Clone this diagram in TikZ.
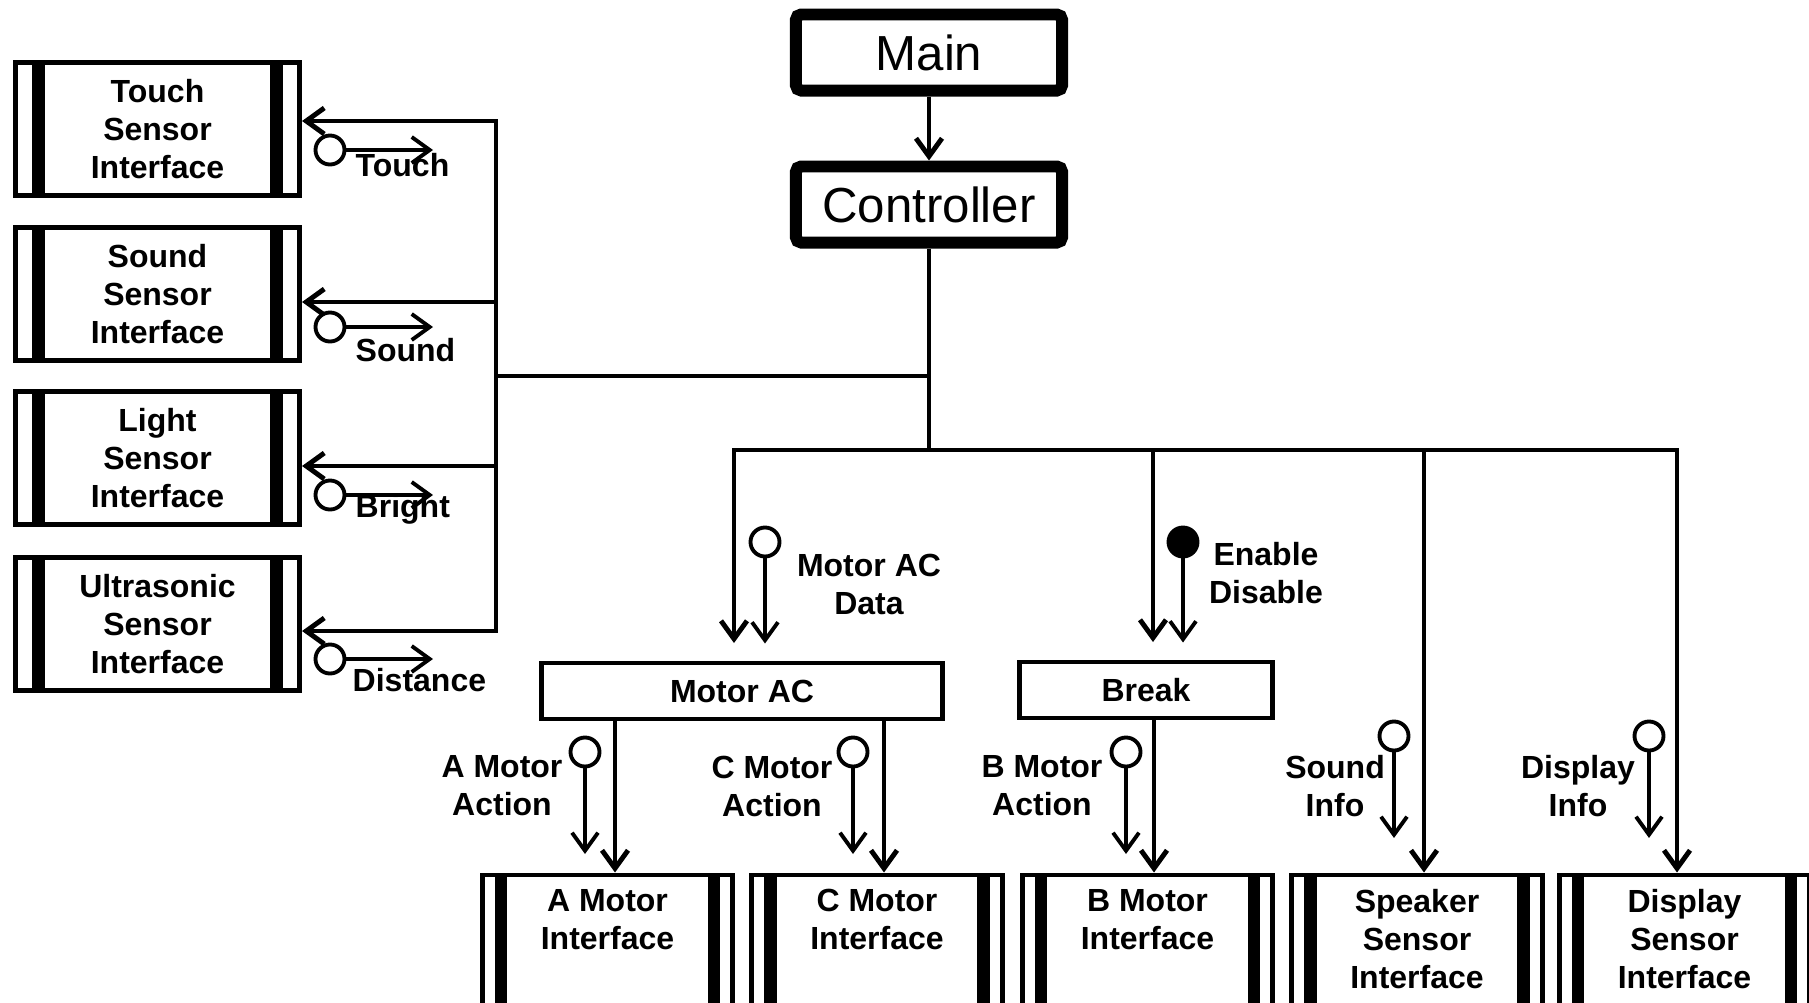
\documentclass[tikz,border=0pt]{standalone}
\usepackage{fontspec}
\setmainfont{Liberation Sans}
\usetikzlibrary{arrows.meta}

\newcommand\lblfont{\fontsize{9.1}{10.8}\selectfont\bfseries}

\begin{document}
\begin{tikzpicture}[
		x=0.01cm, y=-0.01cm,
		iface/.style={
			draw,
			line width=1.4pt,
			inner sep=0pt,
			align=center,
			font=\lblfont,
			path picture={
				\draw[line width=3.5pt] ([xshift=#1]path picture bounding box.north west) -- ([xshift=#1]path picture bounding box.south west);
				\draw[line width=3.5pt] ([xshift=-#1]path picture bounding box.north east) -- ([xshift=-#1]path picture bounding box.south east);
			},
		},
		sensorbox/.style={iface=0.23cm, minimum width=2.84cm, minimum height=1.33cm},
		modbox/.style={iface=0.185cm, minimum width=2.5cm, minimum height=1.8cm, anchor=north},
		modtext/.style={anchor=north, align=center, font=\lblfont, inner sep=0pt, yshift=-0.16cm},
		topbox/.style={
			draw,
			line width=3.4pt,
			rounded corners=1.5pt,
			minimum width=2.66cm,
			minimum height=0.76cm,
			inner sep=0pt,
			font=\fontsize{14}{16}\selectfont,
		},
		flowbox/.style={draw, line width=1.4pt, minimum height=0.56cm, inner sep=0pt, font=\lblfont},
		conn/.style={line width=1.4pt, >={Straight Barb[length=1.8mm, width=2.6mm]}},
		sig/.style={line width=1.1pt, >={Straight Barb[length=1.8mm, width=2.6mm]}},
		sigdot/.style={circle, draw, line width=1.1pt, minimum size=0.29cm, inner sep=0pt, fill=white},
		siglbl/.style={font=\lblfont, align=center, inner sep=0pt},
	]

		\useasboundingbox (0,0) rectangle (1809,1003);
		\clip (0,0) rectangle (1809,1003);

		% Noeuds du haut
		\node[topbox] (main) at (929,52.5) {Main};
		\node[topbox] (ctrl) at (929,204.5) {Controller};

		% Capteurs (gauche)
		\node[sensorbox] (touch) at (157.5,129) {Touch\\Sensor\\Interface};
		\node[sensorbox] (sound) at (157.5,294) {Sound\\Sensor\\Interface};
		\node[sensorbox] (light) at (157.5,458) {Light\\Sensor\\Interface};
		\node[sensorbox] (ultra) at (157.5,624) {Ultrasonic\\Sensor\\Interface};

		% Blocs du milieu
		\node[flowbox, minimum width=4.01cm] (motorac) at (742,691) {Motor AC};
		\node[flowbox, minimum width=2.53cm] (brk) at (1146,690) {Break};

		% Interfaces (bas)
		\node[modbox, label={[modtext]north:{A Motor\\Interface}}] (amot) at (607.5,872.5) {};
		\node[modbox, label={[modtext]north:{C Motor\\Interface}}] (cmot) at (877,872.5) {};
		\node[modbox, label={[modtext]north:{B Motor\\Interface}}] (bmot) at (1147.5,872.5) {};
		\node[modbox, label={[modtext]north:{Speaker\\Sensor\\Interface}}] (spkif) at (1417,872.5) {};
		\node[modbox, label={[modtext]north:{Display\\Sensor\\Interface}}] (dispif) at (1684.5,872.5) {};

		% Points de bus
		\coordinate (lj) at (496,376);
		\coordinate (tb) at (496,121);
		\coordinate (sb) at (496,302);
		\coordinate (lb) at (496,466);
		\coordinate (ub) at (496,631);
		\coordinate (jct) at (929,450);
		\coordinate (bl) at (734,450);
		\coordinate (bb) at (1153,450);
		\coordinate (sp) at (1424,450);
		\coordinate (br) at (1677,450);

		% Connexions
		\draw[conn, ->] (main) -- (ctrl);
		\draw[conn] (ctrl) -- (jct);
		\draw[conn] (ctrl |- lj) -- (lj);
		\draw[conn, <->] (touch.east |- tb) -- (tb) -- (ub) -- (ultra.east |- ub);
		\draw[conn, ->] (sb) -- (sound.east |- sb);
		\draw[conn, ->] (lb) -- (light.east |- lb);
		\draw[conn, <->, shorten <=0.175cm] (bl |- motorac.north) -- (bl) -- (br) -- (br |- dispif.north);
		\draw[conn, ->, shorten >=0.175cm] (bb) -- (bb |- brk.north);
		\draw[conn, ->] (sp) -- (sp |- spkif.north);
		\draw[conn, ->] ([xshift=0.075cm]amot.north |- motorac.south) -- ([xshift=0.075cm]amot.north);
		\draw[conn, ->] ([xshift=0.07cm]cmot.north |- motorac.south) -- ([xshift=0.07cm]cmot.north);
		\draw[conn, ->] ([xshift=0.065cm]bmot.north |- brk.south) -- ([xshift=0.065cm]bmot.north);

		% Signaux (gauche)
		\node[sigdot] (dtouch) at (330,150) {};
		\node[sigdot] (dsound) at (330,327) {};
		\node[sigdot] (dlight) at (330,495) {};
		\node[sigdot] (dultra) at (330,659) {};
		\draw[sig, ->] (dtouch) -- ++(103,0);
		\draw[sig, ->] (dsound) -- ++(103,0);
		\draw[sig, ->] (dlight) -- ++(103,0);
		\draw[sig, ->] (dultra) -- ++(103,0);
		\node[siglbl, anchor=west] (ltouch) at (355,165) {Touch};
		\node[siglbl, anchor=west] (lsound) at (355,350) {Sound};
		\node[siglbl, anchor=west] (lbright) at (355,509) {Bright};
		\node[siglbl, anchor=west] (ldist) at (352,680) {Distance};

		% Signaux (bas)
		\node[sigdot] (dmac) at (765,542) {};
		\node[sigdot, fill=black] (den) at (1183,542) {};
		\node[sigdot] (dam) at (585,752) {};
		\node[sigdot] (dcm) at (853,752) {};
		\node[sigdot] (dbm) at (1126,752) {};
		\node[sigdot] (dsi) at (1394,736) {};
		\node[sigdot] (ddi) at (1649,736) {};
		\draw[sig, ->, shorten >=0.17cm] (dmac) -- (dmac |- motorac.north);
		\draw[sig, ->, shorten >=0.17cm] (den) -- (den |- brk.north);
		\draw[sig, ->, shorten >=0.185cm] (dam) -- (dam |- amot.north);
		\draw[sig, ->, shorten >=0.185cm] (dcm) -- (dcm |- cmot.north);
		\draw[sig, ->, shorten >=0.185cm] (dbm) -- (dbm |- bmot.north);
		\draw[sig, ->, shorten >=0.345cm] (dsi) -- (dsi |- spkif.north);
		\draw[sig, ->, shorten >=0.345cm] (ddi) -- (ddi |- dispif.north);
		\node[siglbl] (lmac) at (869,584) {Motor AC\\Data};
		\node[siglbl] (len) at (1266,573) {Enable\\Disable};
		\node[siglbl] (lam) at (502,786) {A Motor\\Action};
		\node[siglbl] (lcm) at (772,786) {C Motor\\Action};
		\node[siglbl] (lbm) at (1042,786) {B Motor\\Action};
		\node[siglbl] (lsi) at (1335,786) {Sound\\Info};
		\node[siglbl] (ldi) at (1578,786) {Display\\Info};

	\end{tikzpicture}
\end{document}
